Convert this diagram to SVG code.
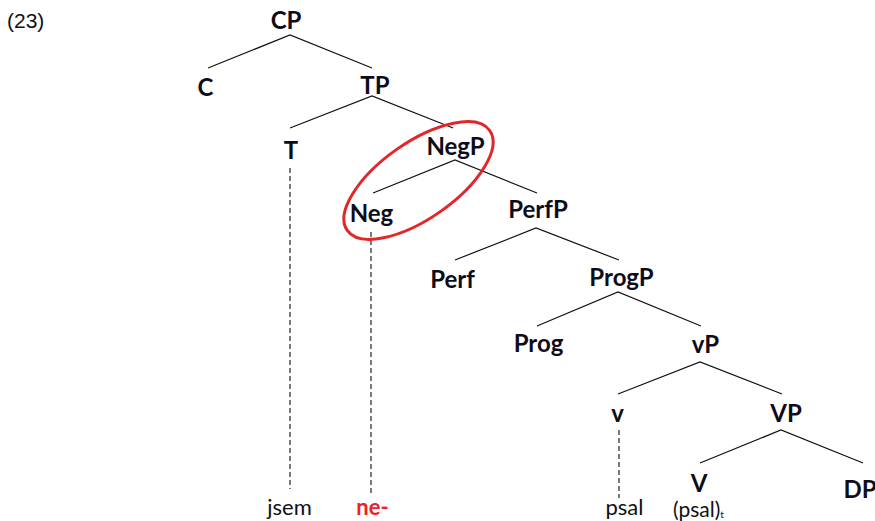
<svg xmlns="http://www.w3.org/2000/svg" width="875" height="521" viewBox="0 0 875 521">
<style>
.n{font-family:Lato,"Noto Sans","Liberation Sans",sans-serif;font-weight:bold;font-size:24px;fill:#0d0d1a;text-anchor:middle}
.w{font-family:Lato,"Noto Sans","Liberation Sans",sans-serif;font-size:22px;fill:#111;text-anchor:middle}
.e{stroke:#111;stroke-width:1.2;fill:none}
.d{stroke:#333;stroke-width:1.3;stroke-dasharray:5,3;fill:none}
</style>
<rect width="875" height="521" fill="#fff"/>
<text x="7" y="28" font-family="Liberation Sans,Arial,sans-serif" font-size="21" fill="#111">(23)</text>
<g id="connectors">
<path class="e" d="M208,68L290,35L372,68"/>
<path class="e" d="M290,128L372,96L453,128"/>
<path class="e" d="M373,193L455,160L537,193"/>
<path class="e" d="M455,260L536,228L619,260"/>
<path class="e" d="M537,326L618,292L701,326"/>
<path class="e" d="M618,394L700,362L782,394"/>
<path class="e" d="M700,463L781,430L863,463"/>
<path class="d" d="M290,168V489"/>
<path class="d" d="M371,232V495"/>
<path class="d" d="M619,430V498"/>
</g>
<g id="CP"><text class="n" x="286" y="29">CP</text></g>
<g id="C"><text class="n" x="205.5" y="96">C</text></g>
<g id="TP"><text class="n" x="375" y="94">TP</text></g>
<g id="T"><text class="n" x="291" y="159">T</text></g>
<g id="NegP"><text class="n" x="455.5" y="155">NegP</text></g>
<g id="Neg"><text class="n" x="371.5" y="222">Neg</text></g>
<g id="PerfP"><text class="n" x="538" y="218">PerfP</text></g>
<g id="Perf"><text class="n" x="452.5" y="288">Perf</text></g>
<g id="ProgP"><text class="n" x="621.5" y="286">ProgP</text></g>
<g id="Prog"><text class="n" x="538.5" y="352">Prog</text></g>
<g id="vP"><text class="n" x="705.5" y="353">vP</text></g>
<g id="v"><text class="n" x="617.5" y="422">v</text></g>
<g id="VP"><text class="n" x="786" y="422">VP</text></g>
<g id="V"><text class="n" x="699" y="492">V</text></g>
<g id="DP"><text class="n" x="860" y="498">DP</text></g>
<g id="jsem"><text class="w" x="289.5" y="515">jsem</text></g>
<g id="ne"><text class="w" x="372.5" y="515" style="font-weight:bold;fill:#ec2227">ne-</text></g>
<g id="psal"><text class="w" x="624.5" y="515">psal</text></g>
<g id="psal-t"><text class="w" x="673" y="517" style="text-anchor:start;font-size:21px">(psal)<tspan style="font-size:10px" dy="1">t</tspan></text></g>
<g id="circle"><ellipse cx="418.5" cy="180.5" rx="87" ry="38" transform="rotate(-35 418.5 180.5)" fill="none" stroke="#e3262a" stroke-width="3"/></g>
</svg>
